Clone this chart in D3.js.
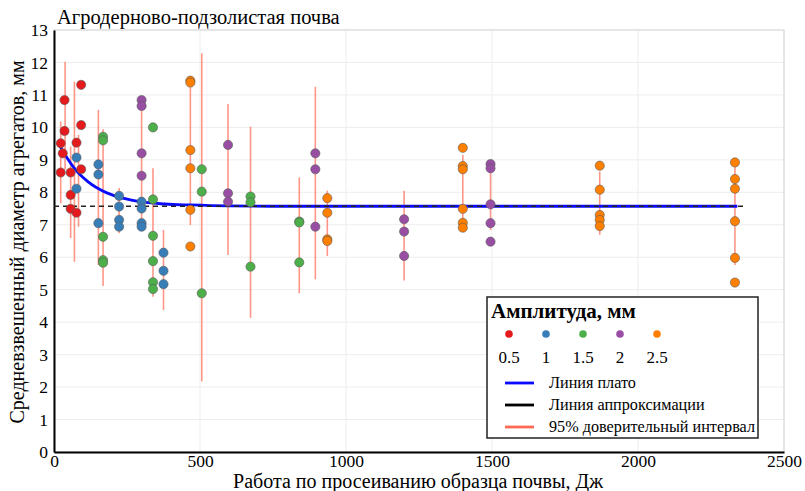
<!DOCTYPE html>
<meta charset="utf-8">
<script src="https://d3js.org/d3.v7.min.js"></script>
<style>
  body { margin: 0; background: #fff; }
  svg text { font-family: "Liberation Serif", "Times New Roman", serif; fill: #000; }
</style>
<div id="chart"></div>
<script>
// ---- data ----
var amplitudes = [0.5, 1, 1.5, 2, 2.5];
var ampColors = ["#e41a1c", "#377eb8", "#4daf4a", "#984ea3", "#ff7f00"];

// points: work (J), mean weighted diameter (mm), amplitude (mm)
var energy = [
  23, 23, 30, 36, 36, 57, 57, 57, 77, 77, 93, 93, 93,
  77, 77, 152, 152, 152, 223, 223, 223, 223, 300, 300, 300, 300, 375, 375, 375,
  168, 168, 168, 168, 168, 339, 339, 339, 339, 339, 339, 506, 506, 506, 673, 673, 673, 840, 840, 840,
  300, 300, 300, 300, 596, 596, 596, 895, 895, 895, 1199, 1199, 1199, 1495, 1495, 1495, 1495, 1495,
  467, 467, 467, 467, 467, 467, 936, 936, 936, 936, 1400, 1400, 1400, 1400, 1400, 1400,
  1869, 1869, 1869, 1869, 1869, 2332, 2332, 2332, 2332, 2332, 2332
];
var diameter = [
  9.51, 8.61, 9.2, 10.84, 9.89, 8.61, 7.92, 7.49, 9.53, 7.37, 11.31, 10.07, 8.71,
  9.07, 8.11, 8.86, 8.55, 7.05, 7.89, 7.56, 7.15, 6.94, 7.71, 7.5, 7.05, 6.94, 6.14, 5.58, 5.17,
  9.71, 9.6, 6.63, 5.91, 5.83, 10.0, 7.78, 6.66, 5.88, 5.23, 5.02, 8.71, 8.02, 4.89, 7.87, 7.69, 5.71, 7.1, 7.07, 5.84,
  10.84, 10.66, 9.2, 8.51, 9.46, 7.97, 7.71, 9.2, 8.71, 6.94, 7.17, 6.79, 6.04, 8.87, 8.74, 7.63, 7.05, 6.48,
  11.44, 11.38, 9.3, 8.74, 7.46, 6.33, 7.82, 7.37, 6.55, 6.5, 9.37, 8.81, 8.71, 7.49, 7.06, 6.91,
  8.82, 8.08, 7.3, 7.15, 6.96, 8.92, 8.41, 8.11, 7.11, 5.98, 5.22
];
var amplitude = [
  0.5, 0.5, 0.5, 0.5, 0.5, 0.5, 0.5, 0.5, 0.5, 0.5, 0.5, 0.5, 0.5,
  1, 1, 1, 1, 1, 1, 1, 1, 1, 1, 1, 1, 1, 1, 1, 1,
  1.5, 1.5, 1.5, 1.5, 1.5, 1.5, 1.5, 1.5, 1.5, 1.5, 1.5, 1.5, 1.5, 1.5, 1.5, 1.5, 1.5, 1.5, 1.5, 1.5,
  2, 2, 2, 2, 2, 2, 2, 2, 2, 2, 2, 2, 2, 2, 2, 2, 2, 2,
  2.5, 2.5, 2.5, 2.5, 2.5, 2.5, 2.5, 2.5, 2.5, 2.5, 2.5, 2.5, 2.5, 2.5, 2.5, 2.5,
  2.5, 2.5, 2.5, 2.5, 2.5, 2.5, 2.5, 2.5, 2.5, 2.5, 2.5
];

// 95% confidence intervals
var ciEnergy = [23, 38, 57, 70, 84, 152, 168, 223, 300, 339, 375, 467, 506, 596, 673, 840, 895, 936, 1199, 1400, 1495, 1869, 2332];
var ciLow    = [7.66, 8.7, 6.59, 5.86, 6.94, 5.76, 5.11, 6.74, 6.94, 4.78, 4.37, 6.99, 2.17, 6.07, 4.13, 4.89, 5.32, 6.04, 5.28, 6.94, 6.84, 6.69, 5.76];
var ciHigh   = [10.18, 12.02, 9.41, 11.41, 9.77, 10.54, 9.94, 8.13, 10.63, 8.74, 6.84, 11.23, 12.28, 10.72, 10.02, 8.46, 11.25, 8.05, 8.05, 9.15, 8.89, 8.64, 8.79];

// plateau curve
var plateauX = [20, 45, 70, 116, 179, 240, 293, 380, 464, 600, 800, 2340];
var plateauY = [9.43, 9.06, 8.74, 8.33, 7.99, 7.81, 7.71, 7.64, 7.61, 7.58, 7.57, 7.57];

// approximation level (dashed)
var approxX = [0, 2370];
var approxY = [7.57, 7.57];

var xTicks = [0, 500, 1000, 1500, 2000, 2500];
var yTicks = d3.range(0, 14);

// ---- layout ----
var W = 805, H = 491;
var margin = { top: 30, right: 21, bottom: 39, left: 54 },
    width = W - margin.left - margin.right,
    height = H - margin.top - margin.bottom;

var svg = d3.select("#chart").append("svg")
    .attr("width", W).attr("height", H);

var g = svg.append("g")
    .attr("transform", "translate(" + margin.left + "," + margin.top + ")");

var x = d3.scaleLinear().domain([0, 2500]).range([0, width]);
var y = d3.scaleLinear().domain([0, 13]).range([height, 0]);
var color = d3.scaleOrdinal().domain(amplitudes).range(ampColors);

// grid
g.append("g").selectAll("line").data(yTicks.slice(1)).enter().append("line")
    .attr("x1", 0).attr("x2", width)
    .attr("y1", function (d) { return y(d); }).attr("y2", function (d) { return y(d); })
    .attr("stroke", "#ededed").attr("stroke-width", 1);
g.append("g").selectAll("line").data(xTicks.slice(1)).enter().append("line")
    .attr("x1", function (d) { return x(d); }).attr("x2", function (d) { return x(d); })
    .attr("y1", 0).attr("y2", height)
    .attr("stroke", "#ededed").attr("stroke-width", 1);
// light frame
g.append("rect").attr("x", 0).attr("y", 0).attr("width", width).attr("height", height)
    .attr("fill", "none").attr("stroke", "#d6d6d6").attr("stroke-width", 1);

// axes
var xAxis = g.append("g").attr("transform", "translate(0," + height + ")")
    .call(d3.axisBottom(x).tickValues(xTicks).tickSize(0).tickPadding(3).tickFormat(d3.format("d")));
var yAxis = g.append("g")
    .call(d3.axisLeft(y).tickValues(yTicks).tickSize(0).tickPadding(6));
[xAxis, yAxis].forEach(function (a) {
  a.select(".domain").attr("stroke", "#000").attr("stroke-width", 2);
  a.selectAll("text").style("font-size", "17.5px").style("font-family", '"Liberation Serif", serif');
});

// confidence intervals
var ci = ciEnergy.map(function (e, i) { return { e: e, lo: ciLow[i], hi: ciHigh[i] }; });
g.append("g").selectAll("line").data(ci).enter().append("line")
    .attr("x1", function (d) { return x(d.e); }).attr("x2", function (d) { return x(d.e); })
    .attr("y1", function (d) { return y(d.lo); }).attr("y2", function (d) { return y(d.hi); })
    .attr("stroke", "#ff6a55").attr("stroke-opacity", 0.7).attr("stroke-width", 1.6);

// lines
var line = d3.line().x(function (d) { return x(d[0]); }).y(function (d) { return y(d[1]); });
g.append("path")
    .datum(plateauX.map(function (v, i) { return [v, plateauY[i]]; }))
    .attr("d", line.curve(d3.curveMonotoneX))
    .attr("fill", "none").attr("stroke", "#0a0aff").attr("stroke-width", 2.8);
g.append("path")
    .datum(approxX.map(function (v, i) { return [v, approxY[i]]; }))
    .attr("d", d3.line().x(function (d) { return x(d[0]); }).y(function (d) { return y(d[1]); }))
    .attr("fill", "none").attr("stroke", "#222").attr("stroke-width", 1.5)
    .attr("stroke-dasharray", "5,4");

// points
var pts = energy.map(function (e, i) { return { e: e, d: diameter[i], a: amplitude[i] }; });
g.append("g").selectAll("circle").data(pts).enter().append("circle")
    .attr("cx", function (d) { return x(d.e); })
    .attr("cy", function (d) { return y(d.d); })
    .attr("r", 4.6)
    .attr("fill", function (d) { return color(d.a); })
    .attr("stroke", "#5a5a5a").attr("stroke-width", 0.6);

// titles
svg.append("text").attr("x", 57).attr("y", 24).style("font-size", "20.5px")
    .text("Агродерново-подзолистая почва");
svg.append("text").attr("x", margin.left + width / 2 - 1).attr("y", 488)
    .attr("text-anchor", "middle").style("font-size", "20px")
    .text("Работа по просеиванию образца почвы, Дж");
svg.append("text")
    .attr("transform", "translate(24," + (margin.top + height / 2 + 1) + ") rotate(-90)")
    .attr("text-anchor", "middle").style("font-size", "20px")
    .text("Средневзвешенный диаметр агрегатов, мм");

// legend
var lg = svg.append("g").attr("transform", "translate(487,297)");
lg.append("rect").attr("width", 271).attr("height", 141)
    .attr("fill", "#fff").attr("stroke", "#222").attr("stroke-width", 1.5);
lg.append("text").attr("x", 4).attr("y", 21).style("font-size", "21px").style("font-weight", "bold")
    .text("Амплитуда, мм");
var items = lg.selectAll(".amp").data(amplitudes).enter().append("g")
    .attr("transform", function (d, i) { return "translate(" + (22 + i * 37) + ",0)"; });
items.append("circle").attr("cy", 37).attr("r", 3.8).attr("fill", function (d) { return color(d); });
items.append("text").attr("y", 66).attr("text-anchor", "middle").style("font-size", "17px")
    .text(function (d) { return d; });
var lineItems = [
  { label: "Линия плато", color: "#0a0aff" },
  { label: "Линия аппроксимации", color: "#000" },
  { label: "95% доверительный интервал", color: "#ff6a55" }
];
var li = lg.selectAll(".li").data(lineItems).enter().append("g")
    .attr("transform", function (d, i) { return "translate(0," + (86 + i * 22) + ")"; });
li.append("line").attr("x1", 18).attr("x2", 47)
    .attr("stroke", function (d) { return d.color; }).attr("stroke-width", 2.8);
li.append("text").attr("x", 62).attr("y", 5).style("font-size", "16.2px")
    .text(function (d) { return d.label; });
</script>
